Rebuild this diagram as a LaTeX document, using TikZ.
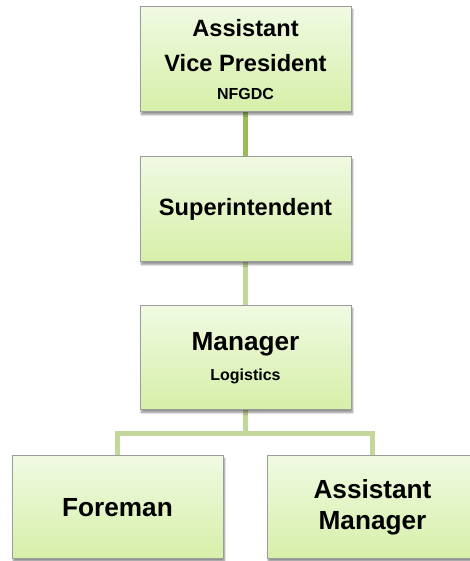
\documentclass[tikz,border=0pt]{standalone}
\usepackage{fontspec}
\setmainfont{Liberation Sans}
\usetikzlibrary{backgrounds,shadows.blur}
\definecolor{boxtop}{HTML}{F0FAE2}
\definecolor{boxbot}{HTML}{D6EFA8}
\definecolor{boxline}{HTML}{9C9C9C}
\definecolor{linkdark}{HTML}{9BBB59}
\definecolor{linklight}{HTML}{C3D69B}
\tikzset{
  orgbox/.style={draw=boxline, line width=1pt, top color=boxtop, bottom color=boxbot,
    minimum width=211pt, minimum height=105pt, inner sep=0pt, align=center,
    text=black, font=\bfseries\fontsize{23.6}{35}\selectfont,
    blur shadow={shadow xshift=1.5pt, shadow yshift=-2.5pt, shadow blur steps=6, shadow opacity=45}},
  link/.style={line width=5pt, draw=linklight},
  linkmain/.style={line width=5pt, draw=linkdark},
}
\begin{document}
\begin{tikzpicture}[x=1pt,y=1pt]
\useasboundingbox (0,0) rectangle (470,561);
\clip (0,0) rectangle (470,561);
% boxes
\node[orgbox] (vp) at (245.5,501.5)
  {Assistant\\Vice President\\[-7pt]{\fontsize{16}{19}\selectfont NFGDC}};
\node[orgbox] (sup) at (245.5,351.5) {Superintendent};
\node[orgbox, minimum height=104pt, font=\bfseries\fontsize{26.2}{35}\selectfont] (mgr) at (245.5,203)
  {Manager\\[-5pt]{\fontsize{16}{19}\selectfont Logistics}};
\node[orgbox, minimum height=103pt, font=\bfseries\fontsize{26.2}{31}\selectfont] (fore) at (117.5,53.5) {Foreman};
\node[orgbox, minimum height=103pt, font=\bfseries\fontsize{26.2}{31}\selectfont] (am) at (372.5,53.5) {Assistant\\Manager};
\coordinate (bus) at (245.5,127);
% connectors
\begin{scope}[on background layer]
  \draw[linkmain] (vp.south) -- (sup.north);
  \draw[link] (sup.south) -- (mgr.north);
  \draw[link] (mgr.south) -- (bus);
  \draw[link] (fore.north) |- (bus) -| (am.north);
\end{scope}
\end{tikzpicture}
\end{document}
